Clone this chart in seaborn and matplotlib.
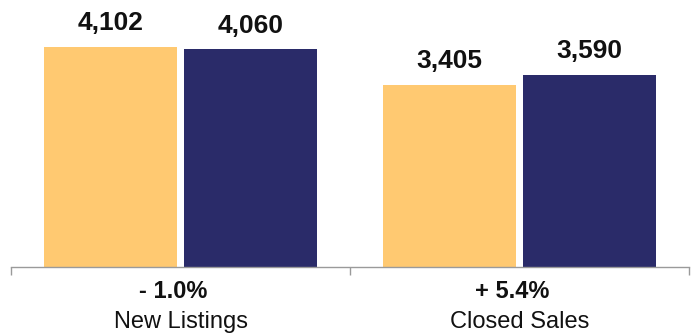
import matplotlib
matplotlib.use("Agg")
import matplotlib.pyplot as plt
import matplotlib.transforms as mtransforms
import seaborn as sns
import pandas as pd

categories = ["New Listings", "Closed Sales"]
periods = ["Prior Year", "Current Year"]
prior_values = [4102, 3405]
current_values = [4060, 3590]
changes = ["- 1.0%", "+ 5.4%"]
value_labels_prior = ["4,102", "3,405"]
value_labels_current = ["4,060", "3,590"]

colors = ["#FFC971", "#2A2B69"]

df = pd.DataFrame({
    "category": categories * 2,
    "period": [periods[0]] * 2 + [periods[1]] * 2,
    "value": prior_values + current_values,
})

sns.set_style("white")
plt.rcParams["font.family"] = ["Liberation Sans", "DejaVu Sans"]

fig = plt.figure(figsize=(6.95, 3.33), dpi=100)
ax = fig.add_axes([11 / 695, (333 - 266.7) / 333, 678 / 695, 266.7 / 333])

sns.barplot(data=df, x="category", y="value", hue="period", order=categories,
            hue_order=periods, palette=colors, width=0.824, gap=0.048,
            linewidth=0, saturation=1, legend=False, ax=ax)

ax.set_xlim(-0.5, 1.5)
ax.set_ylim(0, 4985)

labels = value_labels_prior + value_labels_current
for patch, lab in zip(ax.patches, labels):
    cx = patch.get_x() + patch.get_width() / 2
    ax.annotate(lab, (cx, patch.get_height()), xytext=(0, 12.2),
                textcoords="offset points", ha="center", va="baseline",
                fontsize=19, fontweight="bold", color="#111111")

for s in ["top", "left", "right"]:
    ax.spines[s].set_visible(False)
ax.spines["bottom"].set_color("#9A9A9A")
ax.spines["bottom"].set_linewidth(1.0)

ax.set_xticks([-0.5, 0.5, 1.5])
ax.set_xticklabels([])
ax.tick_params(axis="x", bottom=True, length=6, width=1.0, color="#9A9A9A", direction="out")
ax.set_yticks([])
ax.set_xlabel("")
ax.set_ylabel("")

trans = mtransforms.blended_transform_factory(ax.transData, fig.transFigure)
for i, (cat, ch) in enumerate(zip(categories, changes)):
    ax.annotate(ch, (i, 34.7 / 333), xycoords=trans, xytext=(-5, 0),
                textcoords="offset points", ha="center", va="baseline",
                fontsize=17, fontweight="bold", color="#111111", annotation_clip=False)
    ax.text(i, 4.7 / 333, cat, transform=trans, ha="center", va="baseline",
            fontsize=17, color="#111111", clip_on=False)

fig.savefig("out.png", dpi=100)
